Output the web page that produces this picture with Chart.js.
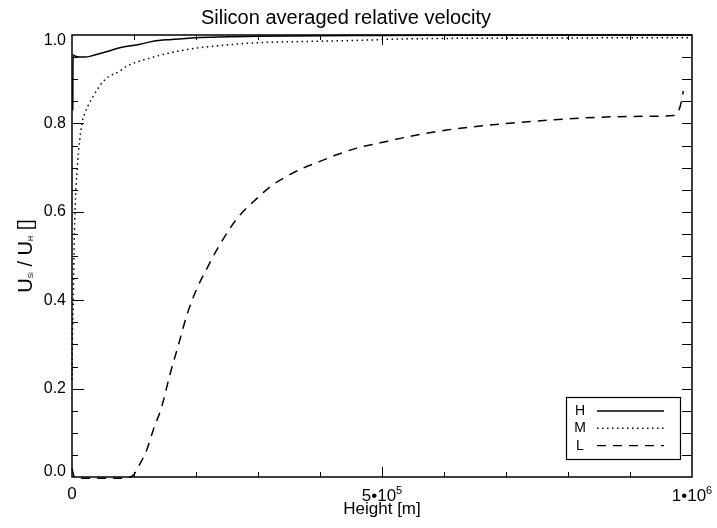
<!DOCTYPE html>
<html lang="en">
<head>
  <meta charset="UTF-8">
  <title>Silicon averaged relative velocity</title>
  <script src="https://cdn.jsdelivr.net/npm/chart.js"></script>
  <style>
    html, body { margin: 0; padding: 0; background: #fff; }
    #wrap { width: 717px; height: 528px; }
  </style>
</head>
<body>
<div id="wrap"><canvas id="siChart" width="717" height="528"></canvas></div>

<script>
// values: height [m] and U_Si / U_H
const hHeight = [1200, 1700, 5000, 20000, 35000, 60000, 77000, 110000, 131000, 160000, 200000, 300000, 500000, 700000, 1000000];
const hVel    = [0.83, 0.955, 0.952, 0.950, 0.954, 0.964, 0.971, 0.979, 0.986, 0.990, 0.994, 0.997, 0.999, 1.0, 1.0];

const mHeight = [0, 500, 2100, 3200, 4800, 8500, 16000, 21000, 34000, 53000, 77000, 88000, 126000, 185000, 239000, 292000, 400000, 465000, 530000, 750000, 1000000];
const mVel    = [0.22, 0.3, 0.4, 0.5, 0.6, 0.7, 0.8, 0.824, 0.861, 0.899, 0.918, 0.929, 0.948, 0.967, 0.976, 0.982, 0.986, 0.988, 0.991, 0.993, 0.994];

const lHeight = [0, 4000, 20000, 80000, 98000, 110000, 120500, 131000, 144700, 158000, 171500, 185000, 201000, 217000, 228000, 239000, 255000, 271000, 292000, 319000, 346000, 373000, 400000, 427000, 459000, 497000, 550000, 604000, 658000, 712000, 766000, 819000, 873000, 927000, 970000, 978000, 983000, 986000];
const lVel    = [0.02, 0.0, -0.003, -0.003, 0.003, 0.031, 0.061, 0.106, 0.159, 0.232, 0.298, 0.365, 0.425, 0.47, 0.5, 0.527, 0.563, 0.593, 0.622, 0.656, 0.68, 0.699, 0.714, 0.729, 0.744, 0.756, 0.772, 0.785, 0.794, 0.801, 0.807, 0.812, 0.815, 0.816, 0.818, 0.827, 0.850, 0.873];

const seriesNames = ['H', 'M', 'L'];
const seriesDash  = [[], [1.5, 3.5], [9, 7]];

function pts(xs, ys) {
  return xs.map((x, i) => ({ x: x, y: ys[i] }));
}

const FONT = '"Liberation Sans", Arial, Helvetica, sans-serif';

// IDL style frame: inward ticks on all four sides, labels, y title, boxed legend
const idlFrame = {
  id: 'idlFrame',
  afterDraw(chart) {
    const ctx = chart.ctx;
    const a = chart.chartArea;
    const xs = chart.scales.x, ys = chart.scales.y;
    ctx.save();
    ctx.strokeStyle = '#000';
    ctx.fillStyle = '#000';
    ctx.lineWidth = 1.5;
    ctx.strokeRect(a.left, a.top, a.right - a.left, a.bottom - a.top);

    // x ticks
    ctx.lineWidth = 1;
    xs.ticks.forEach(t => {
      const px = Math.round(xs.getPixelForValue(t.value)) + 0.5;
      const major = Math.round(t.value / 1e5) % 5 === 0;
      const len = major ? 10 : 5;
      if (t.value <= 0 || t.value >= 1e6) return;
      ctx.beginPath();
      ctx.moveTo(px, a.bottom); ctx.lineTo(px, a.bottom - len);
      ctx.moveTo(px, a.top); ctx.lineTo(px, a.top + len);
      ctx.stroke();
    });
    // y ticks
    ys.ticks.forEach(t => {
      const py = Math.round(ys.getPixelForValue(t.value)) + 0.5;
      const major = Math.round(t.value * 100) % 20 === 0;
      if (t.value <= 0 || t.value >= 1) return;
      ctx.beginPath();
      ctx.moveTo(a.left, py); ctx.lineTo(a.left + (major ? 12 : 6), py);
      ctx.moveTo(a.right, py); ctx.lineTo(a.right - 10, py);
      ctx.stroke();
    });

    // y labels, kept inside the frame at the ends
    ctx.font = '16px ' + FONT;
    ctx.textAlign = 'right';
    ctx.textBaseline = 'middle';
    ys.ticks.forEach(t => {
      if (Math.round(t.value * 100) % 20 !== 0) return;
      let py = ys.getPixelForValue(t.value);
      py = Math.min(Math.max(py, a.top + 6), a.bottom - 5.5);
      ctx.fillText(t.value.toFixed(1), a.left - 6, py);
    });

    // x labels with exponent
    ctx.textBaseline = 'alphabetic';
    xs.ticks.forEach(t => {
      if (Math.round(t.value / 1e5) % 5 !== 0) return;
      const px = xs.getPixelForValue(t.value);
      const base = a.bottom + 24;
      if (t.value === 0) {
        ctx.font = '17px ' + FONT;
        ctx.textAlign = 'center';
        ctx.fillText('0', px, base - 2);
        return;
      }
      const e = Math.floor(Math.log10(t.value));
      const mant = Math.round(t.value / Math.pow(10, e));
      const main = mant + '\u202210';
      const sup = String(e);
      ctx.font = '17px ' + FONT;
      const w1 = ctx.measureText(main).width;
      ctx.font = '11px ' + FONT;
      const w2 = ctx.measureText(sup).width;
      const x0 = px - (w1 + w2) / 2;
      ctx.textAlign = 'left';
      ctx.font = '17px ' + FONT;
      ctx.fillText(main, x0, base);
      ctx.font = '11px ' + FONT;
      ctx.fillText(sup, x0 + w1, base - 7);
    });

    // y title: U_Si / U_H []
    ctx.save();
    ctx.translate(32, (a.top + a.bottom) / 2);
    ctx.rotate(-Math.PI / 2);
    ctx.textAlign = 'left';
    ctx.textBaseline = 'alphabetic';
    const parts = [['U', 20, 0], ['Si', 7, 1], [' / ', 20, 0], ['U', 20, 0], ['H', 7, 1], [' []', 20, 0]];
    let total = 0;
    parts.forEach(p => { ctx.font = p[1] + 'px ' + FONT; total += ctx.measureText(p[0]).width; });
    let cx = -total / 2;
    parts.forEach(p => {
      ctx.font = p[1] + 'px ' + FONT;
      ctx.fillText(p[0], cx, p[2]);
      cx += ctx.measureText(p[0]).width;
    });
    ctx.restore();

    // legend box
    const lx = 566, ly = 397, lw = 114, lh = 62;
    ctx.lineWidth = 1.2;
    ctx.fillStyle = '#fff';
    ctx.fillRect(lx, ly, lw, lh);
    ctx.strokeRect(lx + 0.5, ly + 0.5, lw, lh);
    ctx.fillStyle = '#000';
    ctx.font = '14px ' + FONT;
    ctx.textAlign = 'center';
    ctx.textBaseline = 'alphabetic';
    chart.data.datasets.forEach((ds, i) => {
      const rowY = ly + 14 + i * 17.3;
      ctx.fillText(ds.label, lx + 14, rowY + 4);
      ctx.beginPath();
      ctx.setLineDash(ds.borderDash || []);
      ctx.lineWidth = 1.4;
      ctx.moveTo(lx + 31, rowY);
      ctx.lineTo(lx + 98, rowY);
      ctx.stroke();
      ctx.setLineDash([]);
    });
    ctx.restore();
  }
};

const allX = [hHeight, mHeight, lHeight];
const allY = [hVel, mVel, lVel];

new Chart(document.getElementById('siChart'), {
  type: 'line',
  data: {
    datasets: seriesNames.map((name, i) => ({
      label: name,
      data: pts(allX[i], allY[i]),
      borderColor: '#000',
      borderWidth: 1.5,
      borderDash: seriesDash[i],
      pointRadius: 0,
      cubicInterpolationMode: 'monotone',
      clip: false
    }))
  },
  options: {
    responsive: false,
    animation: false,
    layout: { padding: { left: 0, right: 25, top: 0, bottom: 0 } },
    plugins: {
      legend: { display: false },
      tooltip: { enabled: false },
      title: {
        display: true,
        text: 'Silicon averaged relative velocity',
        color: '#000',
        font: { family: FONT, size: 20, weight: 'normal' },
        padding: { top: 6, bottom: 5 }
      }
    },
    scales: {
      x: {
        type: 'linear',
        min: 0,
        max: 1000000,
        grid: { display: false, drawTicks: false },
        border: { display: false },
        ticks: { stepSize: 100000, display: false },
        title: {
          display: true,
          text: 'Height [m]',
          color: '#000',
          font: { family: FONT, size: 17 },
          padding: { top: 0, bottom: 8 }
        },
        afterFit: s => { s.height = 51; }
      },
      y: {
        min: 0,
        max: 1,
        grid: { display: false, drawTicks: false },
        border: { display: false },
        ticks: { stepSize: 0.05, display: false },
        afterFit: s => { s.width = 72; }
      }
    }
  },
  plugins: [idlFrame]
});
</script>
</body>
</html>
